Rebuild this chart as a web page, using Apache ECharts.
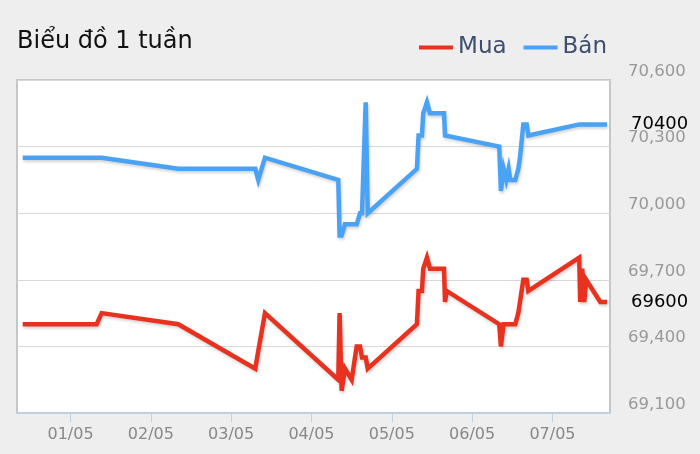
<!DOCTYPE html>
<html>
<head>
<meta charset="utf-8">
<script src="https://cdn.jsdelivr.net/npm/echarts@6/dist/echarts.min.js"></script>
<style>
html,body{margin:0;padding:0;background:#eeeeee;}
#chart{width:700px;height:454px;}
</style>
</head>
<body>
<div id="chart"></div>
<script>
// Hours relative to 01/05 00:00
const hours = [-14.3, 7.8, 9.3, 32.2, 55.2, 56.1, 58.1, 80.0, 80.4, 81.0, 82.0, 84.0, 85.5, 86.5, 87.1, 88.2, 88.8,
  103.5, 104.0, 105.0, 105.4, 106.5, 107.4, 111.6, 111.9, 112.4, 128.1, 128.6, 129.4, 130.2, 130.9, 131.4,
  132.9, 133.8, 134.3, 135.3, 136.3, 136.8, 152.0, 152.3, 152.9, 153.5, 154.1, 158.3, 160.3];
const sell = [70250, 70250, 70250, 70200, 70200, 70150, 70250, 70150, 69900, 69900, 69950, 69950, 69950, 70000, 70000, 70500, 70000,
  70200, 70350, 70350, 70450, 70500, 70450, 70450, 70350, 70350, 70300, 70100, 70200, 70150, 70200, 70150,
  70150, 70200, 70250, 70400, 70400, 70350, 70400, 70400, 70400, 70400, 70400, 70400, 70400];
const buy = [69500, 69500, 69550, 69500, 69300, 69380, 69550, 69250, 69550, 69200, 69300, 69250, 69400, 69400, 69350, 69350, 69300,
  69500, 69650, 69650, 69750, 69800, 69750, 69750, 69600, 69650, 69500, 69400, 69500, 69500, 69500, 69500,
  69500, 69550, 69600, 69700, 69700, 69650, 69800, 69600, 69750, 69600, 69700, 69600, 69600];
const dayTicks = [0, 24, 48, 72, 96, 120, 144];
const dayLabels = ['01/05', '02/05', '03/05', '04/05', '05/05', '06/05', '07/05'];

const FONT = 'DejaVu Sans';
const chart = echarts.init(document.getElementById('chart'));
const shadow = {shadowColor: 'rgba(0,0,0,0.18)', shadowBlur: 3, shadowOffsetX: 1, shadowOffsetY: 2};
function mk(name, vals, color) {
  return {
    name: name, type: 'line', showSymbol: false, symbol: 'none', animation: false,
    data: hours.map((h, i) => [h, vals[i]]),
    lineStyle: Object.assign({width: 4.5, color: color, join: 'miter'}, shadow),
    itemStyle: {color: color},
    endLabel: {show: true, formatter: p => String(p.value[1]), color: '#000', fontSize: 18, fontFamily: FONT, distance: 24}
  };
}
chart.setOption({
  backgroundColor: '#eeeeee',
  animation: false,
  title: {text: 'Biểu đồ 1 tuần', left: 12, top: 25, textStyle: {fontFamily: FONT, fontSize: 24, fontWeight: 'normal', color: '#111'}},
  legend: {
    right: 88, top: 31, itemWidth: 34, itemHeight: 4, itemGap: 17, icon: 'rect',
    textStyle: {fontFamily: FONT, fontSize: 23, color: '#3d4f6e'},
    data: ['Mua', 'Bán']
  },
  grid: {left: 17, right: 90, top: 80, bottom: 41, show: true, backgroundColor: '#ffffff', borderColor: '#c6c6c6', borderWidth: 2},
  xAxis: {
    type: 'value', min: -16, max: 161.2,
    axisLine: {show: true, lineStyle: {color: '#c0d0e0', width: 2}},
    axisTick: {show: true, customValues: dayTicks, length: 9, lineStyle: {color: '#c0d0e0', width: 1}},
    axisLabel: {customValues: dayTicks, formatter: v => dayLabels[dayTicks.indexOf(v)], color: '#888', fontFamily: FONT, fontSize: 16, margin: 14},
    splitLine: {show: false}
  },
  yAxis: {
    type: 'value', position: 'right', min: 69100, max: 70600, interval: 300,
    axisLine: {show: false}, axisTick: {show: false},
    axisLabel: {formatter: v => v.toLocaleString('en-US'), color: '#999', fontFamily: FONT, fontSize: 16.5, margin: 18, verticalAlign: 'bottom', showMinLabel: true, showMaxLabel: true},
    splitLine: {lineStyle: {color: '#d8d8d8', width: 1}}
  },
  series: [mk('Mua', buy, '#e8321f'), mk('Bán', sell, '#4aa2f4')]
});
</script>
</body>
</html>
